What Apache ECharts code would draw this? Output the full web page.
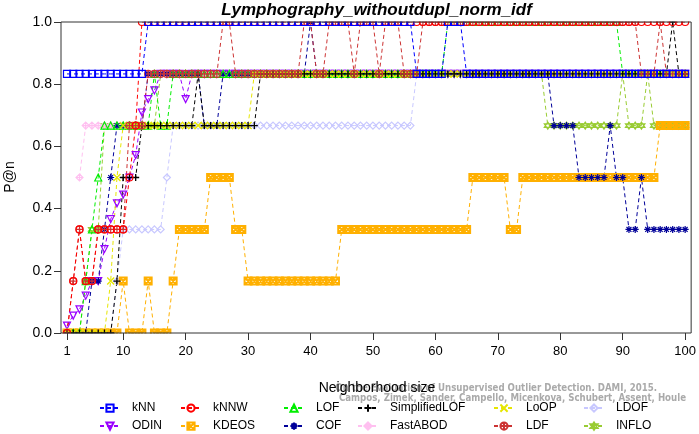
<!DOCTYPE html>
<html><head><meta charset="utf-8">
<script src="https://cdn.jsdelivr.net/npm/echarts@6/dist/echarts.min.js"></script>
<style>html,body{margin:0;padding:0;background:#fff}#c{width:699px;height:434px}</style>
</head><body><div id="c"></div>
<script>
// Neighborhood sizes k = 1..100
const ks = [];
for (let k = 1; k <= 100; k++) ks.push(k);

const kNN = [.833,.833,.833,.833,.833,.833,.833,.833,.833,.833,.833,.833,.833,1,1,1,1,1,1,1,1,1,1,1,1,1,1,1,1,1,1,1,1,1,1,1,1,1,1,1,1,1,1,1,1,1,1,1,1,1,1,1,1,1,1,1,.833,.833,.833,.833,.833,1,1,1,.833,.833,.833,.833,.833,.833,.833,.833,.833,.833,.833,.833,.833,.833,.833,.833,.833,.833,.833,.833,.833,.833,.833,.833,.833,.833,.833,.833,.833,.833,.833,.833,.833,.833,.833,.833];
const kNNW = [0,.167,.333,.167,.167,.333,.333,.333,.333,.333,.5,.667,1,1,1,1,1,1,1,1,1,1,1,1,1,1,1,1,1,1,1,1,1,1,1,1,1,1,1,1,1,1,1,1,1,1,1,1,1,1,1,1,1,1,1,1,1,1,1,1,1,1,1,1,1,1,1,1,1,1,1,1,1,1,1,1,1,1,1,1,1,1,1,1,1,1,1,1,1,1,1,1,1,1,1,1,1,1,1,1];
const LOF = [0,0,0,.167,.333,.5,.667,.667,.667,.667,.667,.667,.667,.667,.833,.667,.667,.833,.833,.833,.833,.833,.833,.833,.833,.833,.833,.833,.833,.833,.833,.833,.833,.833,.833,.833,.833,.833,.833,.833,.833,.833,.833,.833,.833,.833,.833,.833,.833,.833,.833,.833,.833,.833,.833,.833,.833,.833,.833,.833,.833,1,1,1,1,1,1,1,1,1,1,1,1,1,1,1,1,1,1,1,1,1,1,1,1,1,1,1,1,.833,.833,.833,.833,.833,.833,.833,.833,.833,.833,.833];
const SimplifiedLOF = [0,0,0,0,0,0,0,0,.167,.5,.5,.5,.667,.667,.667,.667,.667,.667,.667,.667,.667,.833,.667,.667,.667,.667,.667,.667,.667,.667,.667,.833,.833,.833,.833,.833,.833,.833,.833,.833,.833,.833,.833,.833,.833,.833,.833,.833,.833,.833,.833,.833,.833,.833,.833,.833,.833,.833,.833,.833,.833,.833,.833,.833,.833,.833,.833,.833,.833,.833,.833,.833,.833,.833,.833,.833,.833,.833,.833,.833,.833,.833,.833,.833,.833,.833,.833,.833,.833,.833,.833,.833,.833,.833,.833,.833,.833,1,.833,.833];
const LoOP = [0,0,0,0,0,0,0,.167,.5,.667,.667,.667,.667,.667,.667,.667,.667,.667,.667,.667,.667,.667,.667,.667,.667,.667,.667,.667,.667,.667,.833,.833,.833,.833,.833,.833,.833,.833,.833,.833,.833,.833,.833,.833,.833,.833,.833,.833,.833,.833,.833,.833,.833,.833,.833,.833,.833,.833,.833,.833,.833,.833,.833,.833,.833,.833,.833,.833,.833,.833,.833,.833,.833,.833,.833,.833,.833,.833,.833,.833,.833,.833,.833,.833,.833,.833,.833,.833,.833,.833,.833,.833,.833,.833,.833,.833,.833,.833,.833,.833];
const LDOF = [0,0,0,0,0,0,0,0,.167,.333,.333,.333,.333,.333,.333,.333,.5,.667,.667,.667,.667,.667,.667,.667,.667,.667,.667,.667,.667,.667,.667,.667,.667,.667,.667,.667,.667,.667,.667,.667,.667,.667,.667,.667,.667,.667,.667,.667,.667,.667,.667,.667,.667,.667,.667,.667,.833,.833,.833,.833,.833,.833,.833,.833,.833,.833,.833,.833,.833,.833,.833,.833,.833,.833,.833,.833,.833,.833,.833,.833,.833,.833,.833,.833,.833,.833,.833,.833,.833,.833,.833,.833,.833,.833,.833,.833,.833,.833,.833,.833];
const ODIN = [.024,.056,.076,.12,.167,.167,.27,.366,.417,.445,.5,.572,.709,.752,.78,.833,.833,.833,.833,.752,.833,.833,.833,.833,.833,.833,.833,.833,.833,.833,.833,.833,.833,.833,.833,.833,.833,.833,.833,.833,.833,.833,.833,.833,.833,.833,.833,.833,.833,.833,.833,.833,.833,.833,.833,.833,.833,.833,.833,.833,.833,.833,.833,.833,.833,.833,.833,.833,.833,.833,.833,.833,.833,.833,.833,.833,.833,.833,.833,.833,.833,.833,.833,.833,.833,.833,.833,.833,.833,.833,.833,.833,.833,.833,.833,.833,.833,.833,.833,.833];
const KDEOS = [0,0,0,0,0,0,0,0,0,.167,0,0,0,.167,0,0,0,.167,.333,.333,.333,.333,.333,.5,.5,.5,.5,.333,.333,.167,.167,.167,.167,.167,.167,.167,.167,.167,.167,.167,.167,.167,.167,.167,.333,.333,.333,.333,.333,.333,.333,.333,.333,.333,.333,.333,.333,.333,.333,.333,.333,.333,.333,.333,.333,.5,.5,.5,.5,.5,.5,.333,.333,.5,.5,.5,.5,.5,.5,.5,.5,.5,.5,.5,.5,.5,.5,.5,.5,.5,.5,.5,.5,.5,.5,.667,.667,.667,.667,.667];
const COF = [0,0,0,0,.167,.167,.333,.5,.667,.667,.667,.667,.667,.833,.833,.833,.833,.833,.833,.833,.833,.833,.667,.667,.667,.833,.833,.833,.833,.833,.833,.833,.833,.833,.833,.833,.833,.833,.833,1,.833,.833,.833,.833,.833,.833,.833,.833,.833,.833,.833,.833,.833,.833,.833,.833,.833,.833,.833,.833,.833,.833,.833,.833,.833,.833,.833,.833,.833,.833,.833,.833,.833,.833,.833,.833,.833,.833,.667,.667,.667,.667,.5,.5,.5,.5,.5,.667,.5,.5,.333,.333,.5,.333,.333,.333,.333,.333,.333,.333];
const FastABOD = [null,null,.5,.667,.667,.667,.667,.667,.667,.667,.667,.667,.667,.833,.833,.833,.833,.833,.833,.833,.833,.833,.833,.833,.833,.833,.833,.833,.833,.833,.833,.833,.833,.833,.833,.833,.833,.833,.833,.833,.833,.833,.833,.833,.833,.833,.833,.833,.833,.833,.833,.833,.833,.833,.833,.833,.833,.833,.833,.833,.833,.833,.833,.833,.833,.833,.833,.833,.833,.833,.833,.833,.833,.833,.833,.833,.833,.833,.833,.833,.833,.833,.833,.833,.833,.833,.833,.833,.833,.833,.833,.833,.833,.833,.833,.833,.833,.833,.833,.833];
const LDF = [0,.167,.333,.167,.167,.333,.333,.333,.333,.333,.667,.667,.667,.833,.833,.833,.833,.833,.833,.833,.833,.833,.833,.833,.833,1,1,.833,.833,.833,.833,.833,.833,.833,.833,.833,.833,.833,1,1,.833,.833,1,1,1,1,.833,1,1,1,.833,1,1,1,.833,.833,.833,1,1,1,1,1,1,1,1,1,1,1,1,1,1,1,1,1,1,1,1,1,1,1,1,1,1,1,1,1,1,1,1,1,1,1,.833,.833,.833,1,.833,.833,.833,.833];
const INFLO = [0,0,0,.167,.333,.333,.667,.667,.667,.667,.667,.667,.667,.667,.667,.833,.833,.833,.833,.833,.833,.833,.833,.833,.833,.833,.833,.833,.833,.833,.833,.833,.833,.833,.833,.833,.833,.833,.833,.833,.833,.833,.833,.833,.833,.833,.833,.833,.833,.833,.833,.833,.833,.833,.833,.833,.833,.833,.833,.833,.833,.833,.833,.833,.833,.833,.833,.833,.833,.833,.833,.833,.833,.833,.833,.833,.833,.667,.667,.667,.667,.667,.667,.667,.667,.667,.667,.667,.667,.833,.667,.667,.667,.833,.667,.667,.667,.667,.667,.667];

const xTicks = [1,10,20,30,40,50,60,70,80,90,100];

const names = ['kNN','kNNW','LOF','SimplifiedLOF','LoOP','LDOF','ODIN','KDEOS','COF','FastABOD','LDF','INFLO'];
const values = [kNN,kNNW,LOF,SimplifiedLOF,LoOP,LDOF,ODIN,KDEOS,COF,FastABOD,LDF,INFLO];
const colors = ['#0000ff','#ff0000','#00ee00','#000000','#e6e600','#c8c8ff','#9900ff','#ffb000','#000099','#ffc0f0','#cc3333','#99cc33'];
const symbols = [
  'rect','circle','triangle',
  'path://M5,0L5,10M0,5L10,5',
  'path://M0,0L10,10M10,0L0,10',
  'diamond',
  'path://M0,0L10,0L5,8.66Z',
  'path://M0,0L10,0L10,10L0,10ZM0,0L10,10M10,0L0,10',
  'path://M5,0L5,10M0,5L10,5M1.5,1.5L8.5,8.5M8.5,1.5L1.5,8.5',
  'path://M5,0L10,5L5,10L0,5ZM5,0L5,10M0,5L10,5',
  'path://M0,5A5,5,0,1,1,10,5A5,5,0,1,1,0,5ZM5,0L5,10M0,5L10,5',
  'path://M5,0L9.33,7.5L0.67,7.5ZM5,10L0.67,2.5L9.33,2.5Z'
];
const bw = [1.2,1.2,1.2,1.3,1.3,1.2,1.2,2,1.2,1.2,1.2,1.2];
// drawing order (first = bottom)
const drawOrder = ['ODIN','INFLO','FastABOD','LDOF','KDEOS','COF','LOF','LoOP','SimplifiedLOF','LDF','kNNW','kNN'];

const series = drawOrder.map(n=>{
  const i = names.indexOf(n);
  return {
    name: n, type: 'line',
    data: ks.map((k,j)=>[k, values[i][j]]),
    symbol: symbols[i], symbolSize: 7, showAllSymbol: true,
    connectNulls: false,
    clip: true,
    lineStyle: {color: colors[i], width: 1, type: [4,3]},
    itemStyle: {color: 'none', borderColor: colors[i], borderWidth: bw[i]},
    emphasis: {disabled: true},
    animation: false
  };
});

const colLeft = [99,180,283,357,493,583];
const rowTop = [402,420];
const legends = [];
names.forEach((n,i)=>{
  legends.push({
    left: colLeft[i % 6], top: rowTop[Math.floor(i / 6)], padding: 0,
    data: [n],
    itemWidth: 20, itemHeight: 9,
    textStyle: {fontSize: 12, color: '#000', fontFamily: 'Liberation Sans', padding: [0,0,0,7]},
    selectedMode: false
  });
});

const chart = echarts.init(document.getElementById('c'), null, {renderer: 'canvas'});
chart.setOption({
  animation: false,
  backgroundColor: '#fff',
  grid: {left: 61, right: 7, top: 22, bottom: 101, show: true, borderColor: '#333', borderWidth: 1, containLabel: false, z: 6},
  xAxis: {
    type: 'value', min: 0.04, max: 100.96, z: 6,
    axisLine: {show: false},
    axisTick: {show: true, length: 7, lineStyle: {color: '#333'}, customValues: xTicks},
    axisLabel: {fontSize: 13, color: '#000', fontFamily: 'Liberation Sans', margin: 12, customValues: xTicks, formatter: v => String(v)},
    splitLine: {show: false}
  },
  yAxis: {
    type: 'value', min: 0, max: 1, interval: 0.2, z: 6,
    axisLine: {show: false},
    axisTick: {show: true, length: 7, lineStyle: {color: '#333'}},
    axisLabel: {fontSize: 14, color: '#000', fontFamily: 'Liberation Sans', margin: 9, formatter: v => v.toFixed(1)},
    splitLine: {show: false}
  },
  legend: legends,
  series: series,
  graphic: [
    // white masks so markers are clipped at the plot box like the original
    {type: 'rect', z: 5, silent: true, shape: {x: 55, y: 12, width: 645, height: 9.5}, style: {fill: '#fff'}},
    {type: 'rect', z: 5, silent: true, shape: {x: 55, y: 333.5, width: 645, height: 8}, style: {fill: '#fff'}},
    {type: 'text', x: 376.5, y: 10, z: 10, style: {text: 'Lymphography_withoutdupl_norm_idf', font: 'italic bold 17px "Liberation Sans"', fill: '#000', align: 'center', verticalAlign: 'middle'}},
    {type: 'text', x: 10, y: 177, rotation: Math.PI/2, z: 10, style: {text: 'P@n', font: '14px "Liberation Sans"', fill: '#000', align: 'center', verticalAlign: 'middle'}},
    {type: 'text', x: 657, y: 388, z: 1, style: {text: 'On the Evaluation of Unsupervised Outlier Detection. DAMI, 2015.', font: 'bold 9.6px "DejaVu Sans Condensed"', fill: '#aaaaaa', align: 'right', verticalAlign: 'middle'}},
    {type: 'text', x: 686, y: 398, z: 1, style: {text: 'Campos, Zimek, Sander, Campello, Micenkova, Schubert, Assent, Houle', font: 'bold 9.6px "DejaVu Sans Condensed"', fill: '#aaaaaa', align: 'right', verticalAlign: 'middle'}},
    {type: 'text', x: 377, y: 388, z: 10, style: {text: 'Neighborhood size', font: '14px "Liberation Sans"', fill: '#000', align: 'center', verticalAlign: 'middle'}}
  ]
});
</script></body></html>
